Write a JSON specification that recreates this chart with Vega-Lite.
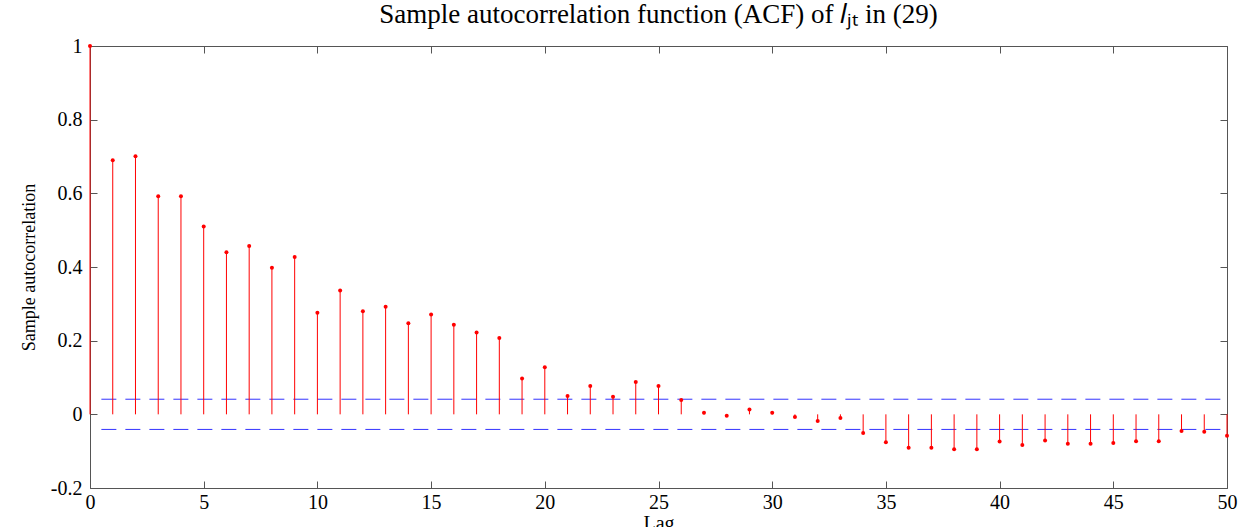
{
  "$schema": "https://vega.github.io/schema/vega-lite/v6.json",
  "width": 1137,
  "height": 442,
  "autosize": {"type": "none"},
  "padding": {"left": 90, "top": 46, "right": 30, "bottom": 39},
  "background": "white",
  "title": {
    "text": "Sample autocorrelation function (ACF) of 𝑙ⱼₜ in (29)",
    "font": "Liberation Serif",
    "fontSize": 27,
    "fontWeight": "normal",
    "color": "black",
    "anchor": "middle",
    "offset": 7
  },
  "config": {
    "view": {"stroke": "#555555", "strokeWidth": 1},
    "style": {"guide-label": {"font": "Liberation Serif"}, "guide-title": {"font": "Liberation Serif"}},
    "axis": {
      "labelFont": "Liberation Serif",
      "titleFont": "Liberation Serif",
      "labelColor": "black",
      "titleColor": "black",
      "titleFontWeight": "normal",
      "grid": false,
      "domain": false,
      "tickColor": "#555555",
      "tickSize": -7,
      "tickWidth": 1
    }
  },
  "datasets": {
    "acf": [
      {"lag": 0, "acf": 1.0},
      {"lag": 1, "acf": 0.690},
      {"lag": 2, "acf": 0.701},
      {"lag": 3, "acf": 0.592},
      {"lag": 4, "acf": 0.592},
      {"lag": 5, "acf": 0.510},
      {"lag": 6, "acf": 0.440},
      {"lag": 7, "acf": 0.457},
      {"lag": 8, "acf": 0.398},
      {"lag": 9, "acf": 0.427},
      {"lag": 10, "acf": 0.276},
      {"lag": 11, "acf": 0.336},
      {"lag": 12, "acf": 0.280},
      {"lag": 13, "acf": 0.292},
      {"lag": 14, "acf": 0.247},
      {"lag": 15, "acf": 0.271},
      {"lag": 16, "acf": 0.243},
      {"lag": 17, "acf": 0.222},
      {"lag": 18, "acf": 0.207},
      {"lag": 19, "acf": 0.097},
      {"lag": 20, "acf": 0.128},
      {"lag": 21, "acf": 0.050},
      {"lag": 22, "acf": 0.077},
      {"lag": 23, "acf": 0.048},
      {"lag": 24, "acf": 0.088},
      {"lag": 25, "acf": 0.077},
      {"lag": 26, "acf": 0.039},
      {"lag": 27, "acf": 0.004},
      {"lag": 28, "acf": -0.004},
      {"lag": 29, "acf": 0.013},
      {"lag": 30, "acf": 0.004},
      {"lag": 31, "acf": -0.007},
      {"lag": 32, "acf": -0.018},
      {"lag": 33, "acf": -0.010},
      {"lag": 34, "acf": -0.051},
      {"lag": 35, "acf": -0.076},
      {"lag": 36, "acf": -0.091},
      {"lag": 37, "acf": -0.091},
      {"lag": 38, "acf": -0.095},
      {"lag": 39, "acf": -0.095},
      {"lag": 40, "acf": -0.074},
      {"lag": 41, "acf": -0.083},
      {"lag": 42, "acf": -0.071},
      {"lag": 43, "acf": -0.080},
      {"lag": 44, "acf": -0.080},
      {"lag": 45, "acf": -0.078},
      {"lag": 46, "acf": -0.073},
      {"lag": 47, "acf": -0.073},
      {"lag": 48, "acf": -0.045},
      {"lag": 49, "acf": -0.047},
      {"lag": 50, "acf": -0.058}
    ],
    "bounds": [
      {"bound": 0.041},
      {"bound": -0.041}
    ]
  },
  "resolve": {"axis": {"x": "independent", "y": "independent"}},
  "layer": [
    {
      "data": {"name": "bounds"},
      "mark": {"type": "rule", "color": "#3333ff", "strokeWidth": 1, "strokeDash": [15, 9]},
      "encoding": {
        "x": {"datum": 0.5, "type": "quantitative", "scale": {"domain": [0, 50], "nice": false},
          "axis": {"orient": "bottom", "values": [0, 5, 10, 15, 20, 25, 30, 35, 40, 45, 50], "labelFont": "Liberation Serif", "labelFontSize": 20, "labelPadding": 11, "title": "Lag", "titleFont": "Liberation Serif", "titleFontSize": 20, "titlePadding": 1, "labelFlush": false}},
        "x2": {"datum": 50},
        "y": {"field": "bound", "type": "quantitative", "scale": {"domain": [-0.2, 1], "nice": false},
          "axis": {"orient": "left", "values": [-0.2, 0, 0.2, 0.4, 0.6, 0.8, 1], "labelFont": "Liberation Serif", "labelFontSize": 20, "labelPadding": 15, "labelExpr": "datum.value < 0 ? '-' + format(-datum.value, '~g') : format(datum.value, '~g')", "title": "Sample autocorrelation", "titleFont": "Liberation Serif", "titleFontSize": 18, "titlePadding": 12, "labelFlush": false}}
      }
    },
    {
      "data": {"name": "acf"},
      "mark": {"type": "rule", "color": "#ff0000", "strokeWidth": 1},
      "encoding": {
        "x": {"field": "lag", "type": "quantitative",
          "axis": {"orient": "top", "values": [0, 5, 10, 15, 20, 25, 30, 35, 40, 45, 50], "labels": false, "title": null}},
        "y": {"field": "acf", "type": "quantitative",
          "axis": {"orient": "right", "values": [-0.2, 0, 0.2, 0.4, 0.6, 0.8, 1], "labels": false, "title": null}},
        "y2": {"datum": 0}
      }
    },
    {
      "mark": {"type": "rule", "color": "#333333", "strokeWidth": 1},
      "encoding": {
        "y": {"datum": 0, "type": "quantitative", "axis": null}
      }
    },
    {
      "data": {"name": "acf"},
      "mark": {"type": "point", "filled": true, "color": "#ff0000", "size": 16, "opacity": 1},
      "encoding": {
        "x": {"field": "lag", "type": "quantitative", "axis": null},
        "y": {"field": "acf", "type": "quantitative", "axis": null}
      }
    }
  ]
}
